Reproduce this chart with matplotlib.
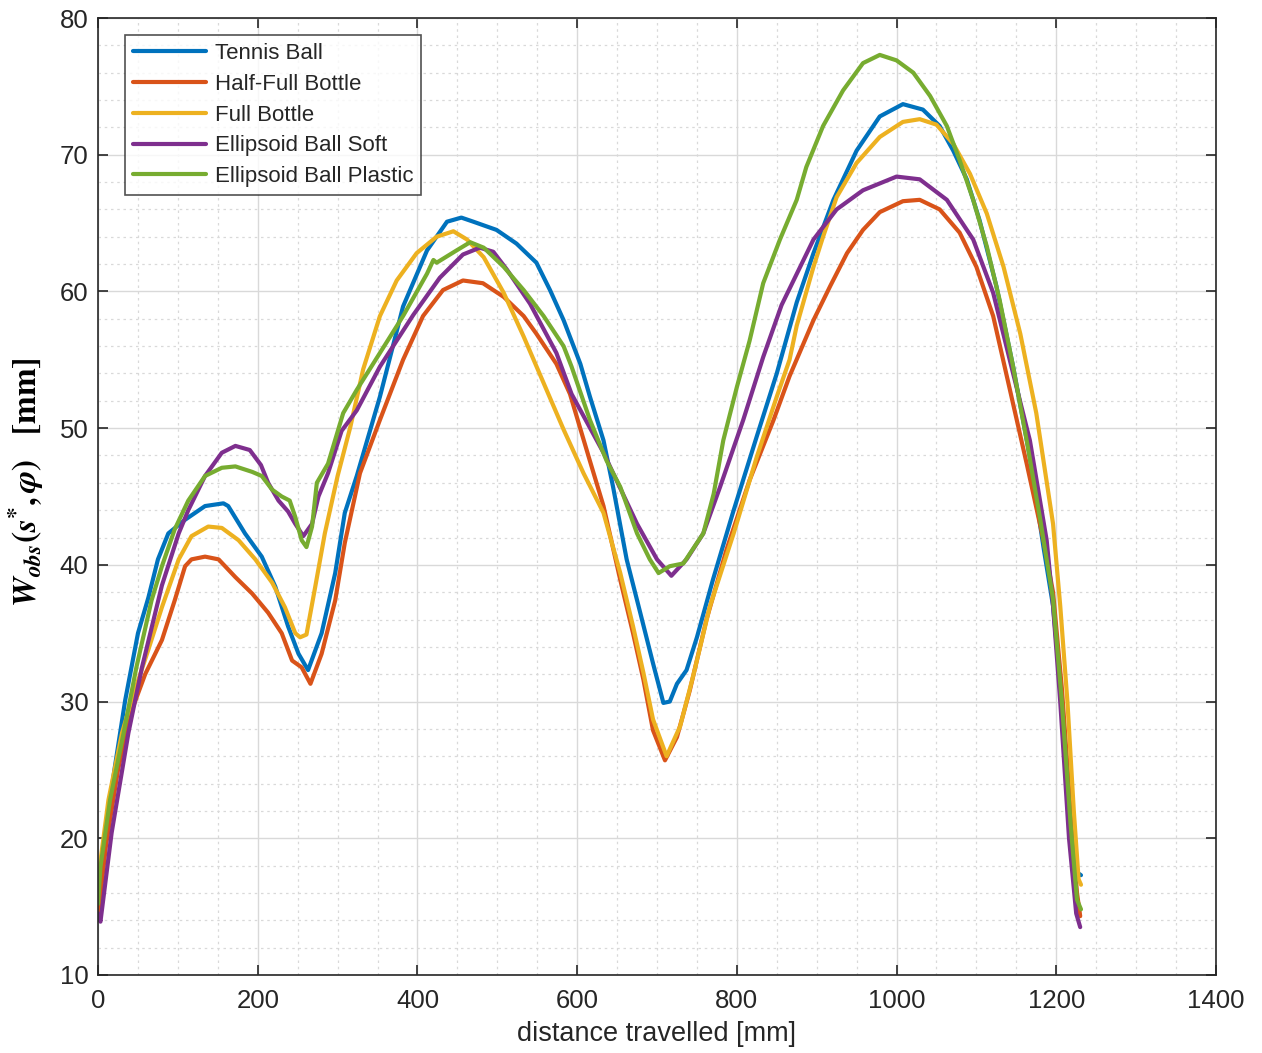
import matplotlib.pyplot as plt
import numpy as np
from matplotlib.ticker import MultipleLocator

plt.rcParams['font.family'] = ['Liberation Sans', 'DejaVu Sans']
plt.rcParams['mathtext.fontset'] = 'stix'

labels = ['Tennis Ball', 'Half-Full Bottle', 'Full Bottle', 'Ellipsoid Ball Soft', 'Ellipsoid Ball Plastic']
colors = ['#0072BD', '#D95319', '#EDB120', '#7E2F8E', '#77AC30']

# Tennis Ball
x_tennis = [0, 9, 21, 34, 50, 63, 75, 88, 109, 134, 157, 163, 184, 205, 222, 238, 251, 263, 280, 297, 309,
            324, 353, 382, 412, 437, 455, 470, 499, 524, 549, 566, 583, 604, 616, 633, 645, 662, 679, 695,
            708, 716, 725, 737, 750, 770, 795, 825, 850, 875, 896, 921, 950, 979, 1008, 1033, 1054, 1071,
            1088, 1104, 1125, 1146, 1167, 1184, 1196, 1207, 1218, 1226, 1231]
y_tennis = [16.7, 20.4, 25.2, 30.1, 35.0, 37.6, 40.4, 42.3, 43.3, 44.3, 44.5, 44.3, 42.3, 40.6, 38.4, 35.5,
            33.5, 32.3, 35.0, 39.4, 43.8, 46.5, 52.3, 58.9, 63.0, 65.1, 65.4, 65.1, 64.5, 63.5, 62.1, 60.1,
            57.9, 54.7, 52.3, 49.1, 45.7, 40.4, 36.5, 32.8, 29.9, 30.0, 31.3, 32.3, 34.7, 38.9, 43.8, 49.4,
            54.0, 59.2, 62.8, 66.7, 70.3, 72.8, 73.7, 73.3, 72.1, 70.3, 68.2, 65.2, 60.4, 54.5, 47.9, 41.3,
            37.0, 30.0, 21.0, 17.5, 17.3]

# Half-Full Bottle
x_half = [0, 10, 25, 40, 59, 80, 96, 109, 117, 134, 151, 172, 193, 213, 230, 243, 255, 266, 280, 297, 309,
          328, 353, 382, 407, 432, 457, 482, 508, 533, 549, 574, 591, 616, 633, 654, 670, 683, 695, 710,
          725, 741, 762, 787, 816, 846, 866, 896, 917, 938, 958, 979, 1008, 1029, 1054, 1079, 1100, 1121,
          1142, 1163, 1184, 1196, 1207, 1218, 1226, 1230]
y_half = [14.3, 19.5, 25.0, 29.0, 32.0, 34.5, 37.4, 39.9, 40.4, 40.6, 40.4, 39.1, 37.9, 36.5, 35.0, 33.0,
          32.5, 31.3, 33.5, 37.4, 41.6, 46.7, 50.6, 55.0, 58.2, 60.1, 60.8, 60.6, 59.6, 58.2, 56.9, 54.7,
          52.5, 47.6, 44.3, 38.9, 35.0, 31.6, 27.9, 25.7, 27.4, 30.8, 36.0, 41.1, 46.2, 50.6, 53.8, 57.9,
          60.4, 62.8, 64.5, 65.8, 66.6, 66.7, 66.0, 64.3, 61.8, 58.2, 52.8, 47.4, 41.8, 38.0, 31.0, 22.0,
          16.0, 14.3]

# Full Bottle
x_full = [0, 13, 30, 42, 63, 80, 101, 117, 138, 155, 176, 197, 218, 234, 247, 253, 261, 272, 284, 300, 316,
          332, 353, 374, 399, 424, 445, 462, 483, 508, 533, 558, 583, 608, 633, 654, 670, 683, 695, 712,
          729, 745, 766, 796, 825, 850, 866, 875, 896, 908, 925, 950, 979, 1008, 1029, 1050, 1071, 1092,
          1113, 1134, 1155, 1175, 1196, 1205, 1214, 1222, 1228, 1231]
y_full = [17.0, 22.8, 27.7, 30.1, 33.8, 36.9, 40.4, 42.1, 42.8, 42.7, 41.8, 40.4, 38.7, 36.9, 35.0, 34.7,
          34.9, 38.4, 42.3, 46.5, 50.1, 54.3, 58.2, 60.8, 62.8, 64.0, 64.4, 63.8, 62.5, 59.9, 56.7, 53.3,
          49.9, 46.7, 43.8, 39.4, 35.5, 32.1, 28.7, 26.0, 28.2, 31.8, 36.9, 42.3, 47.9, 52.3, 55.0, 57.5,
          61.8, 64.0, 66.9, 69.4, 71.3, 72.4, 72.6, 72.2, 70.8, 68.6, 65.7, 61.8, 56.9, 51.1, 43.0, 37.0,
          30.0, 22.0, 17.0, 16.6]

# Ellipsoid Ball Soft
x_soft = [0, 3, 17, 38, 55, 80, 101, 113, 134, 155, 172, 190, 204, 213, 226, 238, 247, 257, 268, 276, 288,
          305, 324, 353, 395, 428, 457, 478, 495, 512, 541, 574, 593, 633, 675, 700, 718, 737, 758, 779,
          808, 833, 856, 896, 925, 958, 1000, 1029, 1063, 1096, 1121, 1146, 1167, 1188, 1196, 1205, 1216,
          1225, 1230]
y_soft = [14.5, 13.9, 20.4, 27.7, 32.5, 38.5, 42.3, 44.0, 46.5, 48.2, 48.7, 48.4, 47.3, 46.0, 44.7, 43.9,
          43.0, 42.1, 43.0, 45.0, 46.7, 49.8, 51.3, 54.5, 58.3, 61.0, 62.7, 63.2, 62.9, 61.6, 59.1, 55.5,
          52.5, 48.2, 43.0, 40.4, 39.2, 40.4, 42.3, 45.7, 50.6, 55.2, 59.0, 63.8, 66.0, 67.4, 68.4, 68.2,
          66.7, 63.8, 59.9, 54.0, 49.1, 41.8, 37.0, 30.0, 20.0, 14.5, 13.5]

# Ellipsoid Ball Plastic
x_plastic = [0, 3, 15, 32, 48, 67, 80, 96, 113, 134, 155, 172, 193, 205, 218, 230, 240, 247, 255, 261, 268,
             274, 288, 307, 324, 353, 382, 412, 420, 424, 449, 466, 483, 508, 533, 558, 583, 593, 616, 637,
             654, 675, 691, 702, 716, 733, 758, 771, 783, 800, 816, 833, 854, 875, 887, 908, 933, 958, 979,
             1000, 1021, 1042, 1063, 1079, 1096, 1113, 1129, 1146, 1163, 1180, 1196, 1207, 1218, 1226, 1231]
y_plastic = [15.2, 17.9, 22.8, 27.7, 32.5, 37.4, 39.9, 42.6, 44.7, 46.5, 47.1, 47.2, 46.8, 46.5, 45.5, 45.0,
             44.7, 43.5, 41.8, 41.3, 42.8, 46.0, 47.4, 51.1, 52.8, 55.5, 58.2, 61.3, 62.3, 62.1, 63.0, 63.6,
             63.2, 61.8, 60.1, 58.2, 56.0, 54.5, 50.6, 47.6, 45.7, 42.3, 40.4, 39.4, 39.9, 40.1, 42.3, 45.2,
             49.1, 53.0, 56.4, 60.6, 63.8, 66.7, 69.1, 72.1, 74.7, 76.7, 77.3, 76.9, 76.0, 74.3, 72.1, 69.6,
             66.7, 63.3, 59.4, 54.5, 49.1, 43.3, 37.5, 30.0, 21.0, 15.5, 14.8]

xs = [x_tennis, x_half, x_full, x_soft, x_plastic]
ys = [y_tennis, y_half, y_full, y_soft, y_plastic]

fig = plt.figure(figsize=(12.62, 10.53), dpi=100)
ax = fig.add_axes([0.0777, 0.0741, 0.8858, 0.9088])

for x, y, c, lab in zip(xs, ys, colors, labels):
    ax.plot(x, y, color=c, linewidth=3.0, label=lab, solid_joinstyle='round', solid_capstyle='round')

ax.set_xlim(0, 1400)
ax.set_ylim(10, 80)
ax.xaxis.set_major_locator(MultipleLocator(200))
ax.yaxis.set_major_locator(MultipleLocator(10))
ax.xaxis.set_minor_locator(MultipleLocator(50))
ax.yaxis.set_minor_locator(MultipleLocator(2))

ax.grid(which='major', color='#d9d9d9', linewidth=1.0, linestyle='-')
ax.grid(which='minor', color='#d9d9d9', linewidth=0.9, linestyle=(0, (2, 3)))
ax.set_axisbelow(True)

ax.tick_params(which='major', direction='in', length=7, width=1.2, top=True, right=True,
               labelsize=18.5, colors='#262626', pad=7)
ax.tick_params(axis='x', which='major', pad=10)
ax.tick_params(which='minor', length=0, top=True, right=True)
for s in ax.spines.values():
    s.set_color('#262626')
    s.set_linewidth(1.2)

ax.set_xlabel('distance travelled [mm]', fontsize=19.5, color='#262626', labelpad=6)
ax.set_ylabel(r'$\mathbfit{W}_{\mathbfit{obs}}\mathbf{(}\mathbfit{s}^{\mathbf{*}}\mathbf{,}\,\mathbfit{\varphi}\mathbf{)}\quad\mathbf{[mm]}$',
              fontsize=24, color='black', labelpad=6)
ax.yaxis.set_label_coords(-0.047, 0.515)

leg = ax.legend(loc='upper left', bbox_to_anchor=(0.024, 0.982), fontsize=16, frameon=True,
                fancybox=False, edgecolor='#262626', handlelength=3.3, handletextpad=0.4,
                labelspacing=0.44, borderpad=0.35, borderaxespad=0.0)
leg.get_frame().set_linewidth(1.2)
for t in leg.get_texts():
    t.set_color('#262626')

fig.savefig('out.png', dpi=100)
